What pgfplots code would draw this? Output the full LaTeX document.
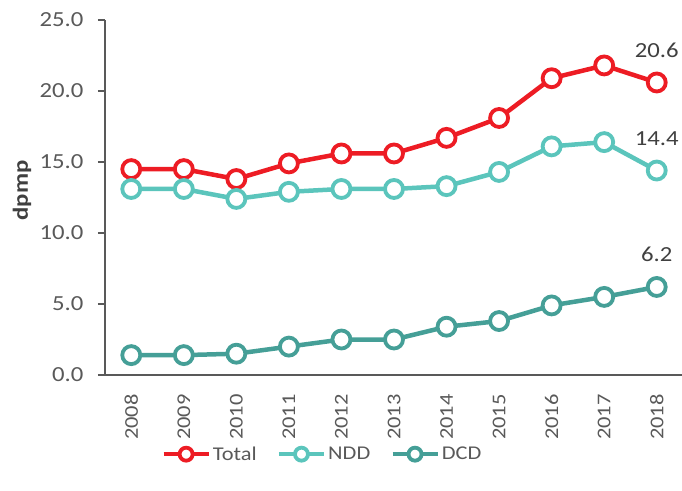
\documentclass[border=0pt]{standalone}
\usepackage{pgfplots}
\pgfplotsset{compat=1.18}
\usepackage{fontspec}
\setmainfont{Carlito}[FakeStretch=1.15]
\definecolor{cTotal}{RGB}{237,28,36}
\definecolor{cNDD}{RGB}{91,197,188}
\definecolor{cDCD}{RGB}{69,159,151}
\definecolor{axgray}{RGB}{89,89,89}
\definecolor{txtgray}{RGB}{64,64,64}
\newcommand{\chartfont}{\fontsize{21.5bp}{25bp}\selectfont}
\newcommand{\smallchartfont}{\fontsize{19.5bp}{23bp}\selectfont}
\begin{document}
\begin{tikzpicture}
\path[use as bounding box] (-105bp,-116bp) rectangle (577bp,375bp);
\begin{axis}[
  scale only axis, width=578bp, height=355bp,
  xmin=-0.5, xmax=10.5, ymin=0, ymax=25,
  clip=false,
  axis x line*=bottom, axis y line*=left,
  axis line style={axgray, line width=2bp},
  xtick={0,1,2,3,4,5,6,7,8,9,10},
  xticklabels={2008,2009,2010,2011,2012,2013,2014,2015,2016,2017,2018},
  xtick style={draw=none},
  ytick={0,5,10,15,20,25},
  ytick style={axgray, line width=1.5bp},
  tick align=outside, major tick length=7bp,
  /pgf/number format/assume math mode=true,
  yticklabel style={xshift=-11bp, font=\chartfont, /pgf/number format/.cd, fixed, fixed zerofill, precision=1},
  ticklabel style={text=axgray},
  xticklabel style={font=\smallchartfont, yshift=-9bp, rotate=90, anchor=east},
  ylabel={\textbf{dpmp}},
  ylabel style={at={(axis description cs:-0.1436,0.52)}, anchor=center, font=\chartfont, text=txtgray},
  every axis plot/.append style={line width=4.5bp, mark=*, mark size=9bp, mark options={fill=white, line width=3.8bp, solid}},
  legend image code/.code={
    \draw[mark repeat=2, mark phase=2, #1, mark size=6.5bp] plot coordinates {(0bp,0bp) (22.5bp,0bp) (45bp,0bp)};
  },
  legend style={draw=none, fill=none, at={(axis description cs:0.092,-0.223)}, anchor=west,
    legend columns=-1, font=\smallchartfont, text=axgray,
    /tikz/every even column/.append style={column sep=18bp},
    /tikz/every odd column/.append style={column sep=0bp}},
]
\addplot[cTotal] coordinates {(0,14.5) (1,14.5) (2,13.8) (3,14.9) (4,15.6) (5,15.6) (6,16.7) (7,18.1) (8,20.9) (9,21.8) (10,20.6)};
\addlegendentry{Total}
\addplot[cNDD] coordinates {(0,13.1) (1,13.1) (2,12.4) (3,12.9) (4,13.1) (5,13.1) (6,13.3) (7,14.3) (8,16.1) (9,16.4) (10,14.4)};
\addlegendentry{NDD}
\addplot[cDCD] coordinates {(0,1.4) (1,1.4) (2,1.5) (3,2.0) (4,2.5) (5,2.5) (6,3.4) (7,3.8) (8,4.9) (9,5.5) (10,6.2)};
\addlegendentry{DCD}
\node[anchor=base, font=\chartfont, text=txtgray, yshift=25bp] at (axis cs:10,20.6) {20.6};
\node[anchor=base, font=\chartfont, text=txtgray, yshift=25bp] at (axis cs:10,14.4) {14.4};
\node[anchor=base, font=\chartfont, text=txtgray, yshift=25bp] at (axis cs:10,6.2) {6.2};
\end{axis}
\end{tikzpicture}
\end{document}
